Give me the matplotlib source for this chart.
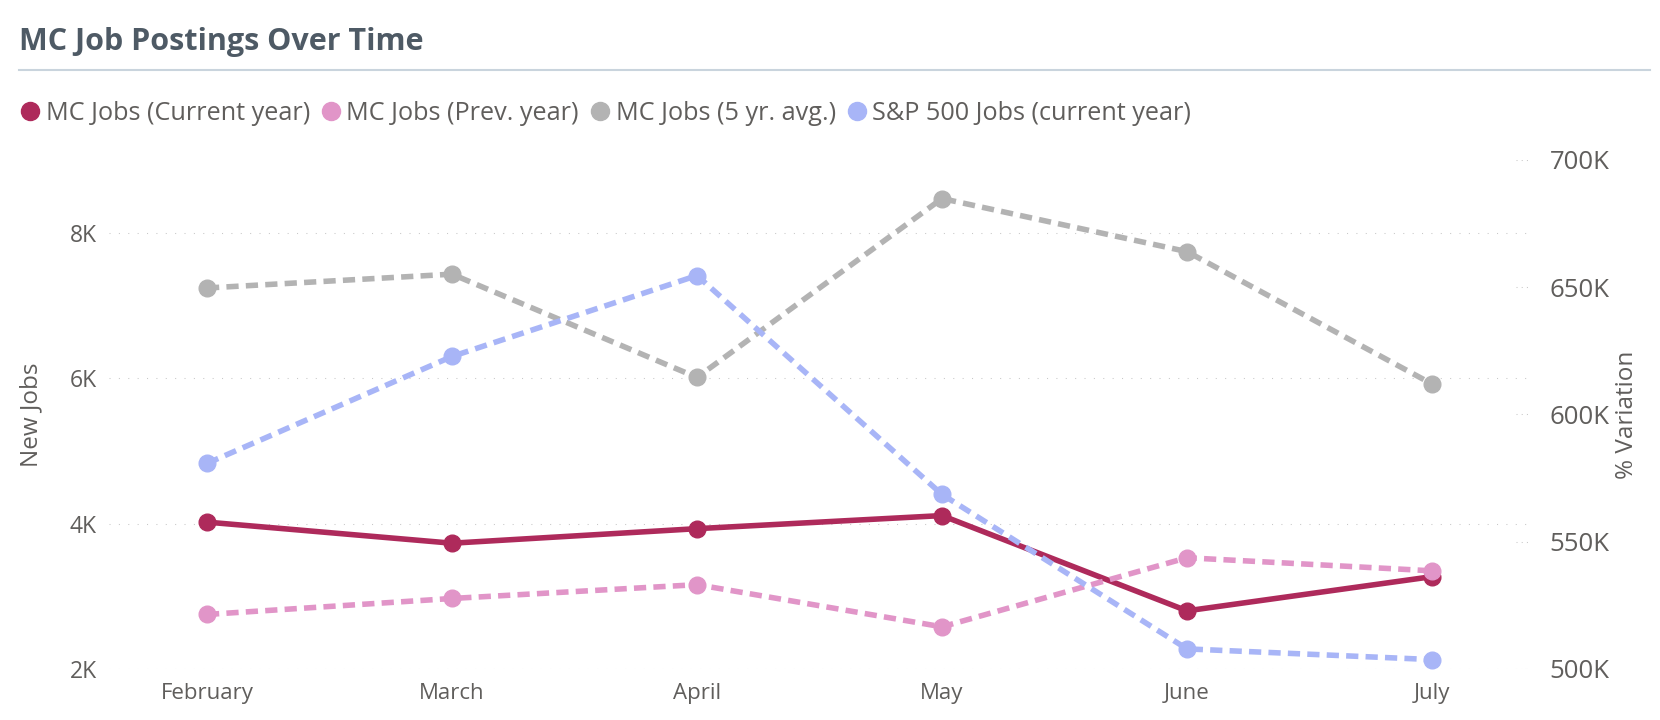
import matplotlib
matplotlib.use("Agg")
import matplotlib.pyplot as plt
from matplotlib.lines import Line2D
from matplotlib.ticker import FuncFormatter

plt.rcParams['font.family'] = ['Open Sans', 'DejaVu Sans']

# ---- data ----
months = ['February', 'March', 'April', 'May', 'June', 'July']
mc_current = [4020, 3730, 3930, 4110, 2800, 3270]
mc_prev = [2750, 2970, 3160, 2580, 3530, 3350]
mc_5yr = [7240, 7430, 6010, 8470, 7740, 5920]
sp500_current = [580800, 622800, 654600, 568600, 507900, 503700]

left_ticks = [2000, 4000, 6000, 8000]
right_ticks = [500000, 550000, 600000, 650000, 700000]

series_labels = ['MC Jobs (Current year)', 'MC Jobs (Prev. year)',
                 'MC Jobs (5 yr. avg.)', 'S&P 500 Jobs (current year)']
colors = ['#AE2A5B', '#E195C8', '#B3B3B3', '#A8B5F7']

title_color = '#4E5A65'
text_color = '#605E5C'
grid_color = '#C8C8C8'

fig = plt.figure(figsize=(16.6, 7.2), dpi=100)
ax = fig.add_axes([109/1660, 1-669/720, (1530-109)/1660, (669-160)/720])
ax2 = ax.twinx()

x = list(range(len(months)))
lw = 4.0
ms = 12
dash = (0, (2.2, 1.3))

ax.plot(x, mc_current, color=colors[0], lw=lw, marker='o', ms=ms,
        solid_capstyle='butt', zorder=3)
ax.plot(x, mc_prev, color=colors[1], lw=lw, ls=dash, marker='o', ms=ms, zorder=4)
ax.plot(x, mc_5yr, color=colors[2], lw=lw, ls=dash, marker='o', ms=ms, zorder=4)
ax2.plot(x, sp500_current, color=colors[3], lw=lw, ls=dash, marker='o', ms=ms, zorder=4)

ax.set_xlim(-0.4, len(months) - 1 + 0.4)
ax.set_ylim(2000, 9000)
ax2.set_ylim(500000, 700000)

ax.set_xticks(x)
ax.set_xticklabels(months)
ax.set_yticks(left_ticks)
ax2.set_yticks(right_ticks)
kfmt = FuncFormatter(lambda v, p: f"{v/1000:.0f}K")
ax.yaxis.set_major_formatter(kfmt)
ax2.yaxis.set_major_formatter(kfmt)

for a in (ax, ax2):
    for s in a.spines.values():
        s.set_visible(False)
ax.tick_params(axis='x', length=0, labelsize=16, colors=text_color, pad=10)
ax.tick_params(axis='y', length=0, labelsize=16.5, colors=text_color, pad=9)
ax2.tick_params(axis='y', length=0, labelsize=18.5, colors=text_color, pad=14)

ax.grid(axis='y', color=grid_color, lw=0.75, ls=(0, (1, 8)))
ax.set_axisbelow(True)

# short dotted stubs for the secondary axis ticks
ax2.hlines(right_ticks, 0.99, 1.0, transform=ax2.get_yaxis_transform(),
           colors=grid_color, lw=0.75, ls=(0, (1, 4)))

ax.set_ylabel('New Jobs', fontsize=17.5, color=text_color, labelpad=19)
ax2.set_ylabel('% Variation', fontsize=17.5, color=text_color, labelpad=4)

# title and separator
fig.text(19/1660, 1-50/720, 'MC Job Postings Over Time', fontsize=22,
         fontweight='bold', color=title_color, ha='left', va='baseline')
fig.add_artist(Line2D([19/1660, 1650/1660], [1-70/720, 1-70/720],
                      color='#C9D4DD', lw=1.5, transform=fig.transFigure))

# legend
handles = [Line2D([], [], color=c, marker='o', ls='none', ms=13) for c in colors]
fig.legend(handles, series_labels, loc='center left',
           bbox_to_anchor=(19/1660, 1-113/720), ncol=4, frameon=False,
           fontsize=18.2, labelcolor=text_color, handlelength=0.9,
           handletextpad=0.15, columnspacing=0.4, borderpad=0,
           borderaxespad=0)

fig.savefig('out.png', dpi=100, facecolor='white')
